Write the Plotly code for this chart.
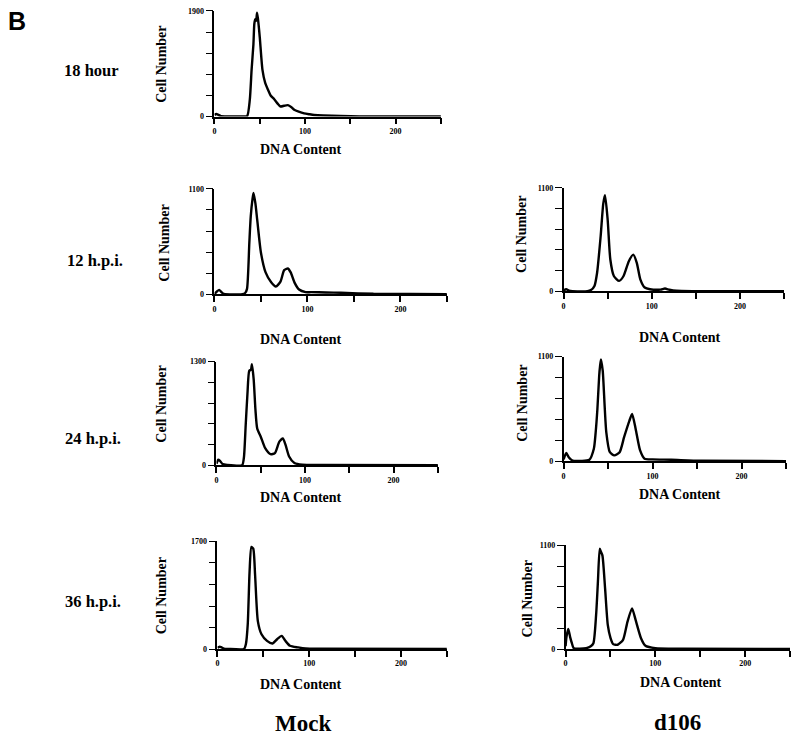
import plotly.graph_objects as go

W, H = 800, 743

# ---------------- data ----------------
panel_names = ["18 hour Mock", "12 h.p.i. Mock", "12 h.p.i. d106", "24 h.p.i. Mock",
               "24 h.p.i. d106", "36 h.p.i. Mock", "36 h.p.i. d106"]
y_max = [1900, 1100, 1100, 1300, 1100, 1700, 1100]

dna_18h_mock = [0, 2, 4, 7, 12, 30, 36, 39, 41, 43, 44, 45, 46, 47, 48, 50, 53, 56, 59, 62, 66, 70, 73, 77,
                81, 85, 88, 93, 99, 105, 110, 120, 139, 160, 250]
cells_18h_mock = [30, 47, 35, 10, 5, 3, 10, 300, 840, 1300, 1665, 1750, 1720, 1870, 1760, 1430, 840, 605,
                  488, 380, 312, 230, 182, 195, 206, 170, 124, 90, 59, 42, 30, 20, 12, 5, 3]

dna_12h_mock = [0, 3, 5, 7, 10, 30, 33, 35, 37.5, 39, 41, 42, 44, 46, 50, 55, 61, 66, 71, 75, 79, 82, 86,
                91, 98, 104, 120, 136, 171, 250]
cells_12h_mock = [5, 35, 48, 30, 5, 3, 15, 58, 536, 810, 1000, 1055, 950, 775, 434, 229, 126, 82, 133,
                  253, 270, 229, 126, 51, 24, 24, 20, 17, 7, 3]

dna_12h_d106 = [0, 3, 6, 10, 27, 31, 35, 38, 42, 45, 47, 50, 53, 57, 63, 68, 74, 79, 83, 87, 92, 98, 110,
                115, 120, 128, 150, 250]
cells_12h_d106 = [10, 24, 10, 3, 3, 15, 59, 199, 583, 932, 1020, 758, 339, 164, 112, 164, 321, 391, 304,
                  129, 42, 24, 20, 31, 18, 7, 4, 2]

dna_24h_mock = [0, 2, 4, 7, 12, 29, 31, 33, 35, 37, 39, 40, 42, 44, 46, 50, 55, 61, 66, 71, 75, 78, 82,
                88, 97, 120, 250]
cells_24h_mock = [20, 70, 55, 15, 5, 3, 100, 503, 900, 1184, 1200, 1267, 1081, 700, 462, 359, 215, 140,
                  153, 297, 338, 256, 111, 29, 8, 5, 2]

dna_24h_d106 = [0, 3, 6, 10, 20, 29, 34, 36, 38, 40, 41, 42, 44, 45, 48, 52, 57, 63, 68, 74, 77, 81, 86,
                91, 100, 121, 154, 250]
cells_24h_d106 = [20, 90, 40, 8, 5, 17, 132, 300, 550, 900, 1002, 1072, 950, 794, 306, 97, 63, 97, 254,
                  428, 498, 341, 115, 28, 21, 17, 7, 3]

dna_36h_mock = [0, 2, 4, 7, 12, 29, 31, 33, 35, 37, 39, 41, 44, 48, 54, 60, 65, 70, 74, 79, 88, 96, 110, 250]
cells_36h_mock = [20, 36, 30, 8, 3, 3, 80, 390, 1222, 1612, 1586, 1170, 442, 234, 130, 88, 156, 208, 130,
                  52, 26, 10, 5, 2]

dna_36h_d106 = [0, 1, 3, 5, 7, 9, 15, 23, 28, 31, 34, 36, 38, 39, 41, 44, 47, 50, 53, 58, 64, 69, 74, 78,
                84, 89, 100, 130, 250]
cells_36h_d106 = [30, 130, 214, 130, 63, 10, 5, 10, 30, 63, 362, 713, 1065, 1040, 994, 643, 257, 120, 53,
                  46, 98, 292, 432, 309, 116, 35, 10, 5, 2]

x_tick_vals = [0, 50, 100, 150, 200, 250]
x_tick_text = ["0", "", "100", "", "200", ""]

row_labels = ["18 hour", "12 h.p.i.", "24 h.p.i.", "36 h.p.i."]
col_labels = ["Mock", "d106"]
x_title = "DNA Content"
y_title = "Cell Number"

series = [(dna_18h_mock, cells_18h_mock), (dna_12h_mock, cells_12h_mock), (dna_12h_d106, cells_12h_d106),
          (dna_24h_mock, cells_24h_mock), (dna_24h_d106, cells_24h_d106), (dna_36h_mock, cells_36h_mock),
          (dna_36h_d106, cells_36h_d106)]

# ---------------- layout (pixel boxes: left, right, top, bottom) ----------------
boxes = [(213, 440, 7, 114), (213, 446, 187, 294), (563, 784, 186, 291), (215, 437, 362, 467),
         (563, 786, 357, 463), (216, 446, 544, 653), (565, 790, 548, 653)]
ylabel_pos = [(160, 61), (162, 242), (520, 233), (159, 405), (521, 404), (160, 599), (527, 602)]
xlabel_pos = [(300, 147), (300, 340), (680, 338), (300, 500), (680, 497), (300, 689), (681, 687)]
row_pos = [(90, 67), (93, 260), (91, 440), (91, 605)]
col_pos = [(302, 728), (677, 727)]

SERIF = "Liberation Serif"


def px(x):
    return x / W


def py(y):
    return 1 - y / H


fig = go.Figure()
layout = dict(
    width=W, height=H, margin=dict(l=0, r=0, t=0, b=0, pad=0),
    paper_bgcolor="white", plot_bgcolor="white", showlegend=False,
)
annotations = []

for i, ((xs, ys), box, ym) in enumerate(zip(series, boxes, y_max)):
    n = "" if i == 0 else str(i + 1)
    fig.add_trace(go.Scatter(x=xs, y=ys, mode="lines",
                             line=dict(color="black", width=2.4, shape="spline", smoothing=0.6),
                             xaxis="x" + n, yaxis="y" + n, name=panel_names[i]))
    l, r, t, b = box
    layout["xaxis" + n] = dict(
        domain=[px(l), px(r)], anchor="y" + n, range=[0, 250],
        tickvals=x_tick_vals, ticktext=x_tick_text, ticks="outside", ticklen=6, tickwidth=1.5,
        tickcolor="black", showline=True, linecolor="black", linewidth=1.5,
        showgrid=False, zeroline=False,
        tickfont=dict(family=SERIF, size=8, color="black", weight="bold"),
    )
    layout["yaxis" + n] = dict(
        domain=[py(b), py(t)], anchor="x" + n, range=[0, ym],
        tickvals=[ym * k / 5 for k in range(6)],
        ticktext=["0", "", "", "", "", str(ym)],
        ticks="outside", ticklen=7, tickwidth=1, tickcolor="black",
        showline=True, linecolor="black", linewidth=1.5,
        showgrid=False, zeroline=False,
        tickfont=dict(family=SERIF, size=8, color="black", weight="bold"),
    )
    yx, yy = ylabel_pos[i]
    annotations.append(dict(text=y_title, x=px(yx), y=py(yy), xref="paper", yref="paper",
                            showarrow=False, textangle=-90, xanchor="center", yanchor="middle",
                            font=dict(family=SERIF, size=14, color="black", weight="bold")))
    xx, xy = xlabel_pos[i]
    annotations.append(dict(text=x_title, x=px(xx), y=py(xy), xref="paper", yref="paper",
                            showarrow=False, xanchor="center", yanchor="middle",
                            font=dict(family=SERIF, size=14, color="black", weight="bold")))

for lab, (x, y) in zip(row_labels, row_pos):
    annotations.append(dict(text=lab, x=px(x), y=py(y), xref="paper", yref="paper", showarrow=False,
                            xanchor="center", yanchor="middle",
                            font=dict(family=SERIF, size=16.5, color="black", weight="bold")))
for lab, (x, y) in zip(col_labels, col_pos):
    annotations.append(dict(text=lab, x=px(x), y=py(y), xref="paper", yref="paper", showarrow=False,
                            xanchor="center", yanchor="middle",
                            font=dict(family=SERIF, size=23, color="black", weight="bold")))
annotations.append(dict(text="B", x=px(15), y=py(17), xref="paper", yref="paper", showarrow=False,
                        xanchor="center", yanchor="middle",
                        font=dict(family="Liberation Sans", size=25, color="black", weight="bold")))

layout["annotations"] = annotations
fig.update_layout(**layout)
fig.write_html("out.html", config={"displayModeBar": False},
               post_script="document.body.style.margin='0';document.body.style.overflow='hidden';")
